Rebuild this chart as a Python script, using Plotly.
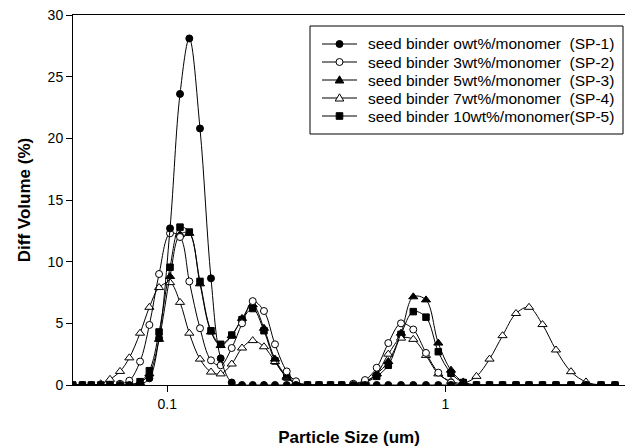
import plotly.graph_objects as go

# Particle size channels (um) shared by all samples
size_um = [0.0457, 0.0495, 0.0533, 0.0576, 0.0622, 0.0676, 0.0730, 0.0798, 0.0862, 0.0934,
           0.1023, 0.1111, 0.1200, 0.1311, 0.1436, 0.1556, 0.1705, 0.1857, 0.2029, 0.2227,
           0.2440, 0.2689, 0.2904, 0.3194, 0.3513, 0.3865, 0.4240, 0.4668, 0.5143, 0.5665,
           0.6237, 0.6929, 0.7671, 0.8522, 0.9437, 1.0483, 1.1607, 1.2945, 1.4421, 1.6067,
           1.7961, 2.0001, 2.2369, 2.5013, 2.8325, 3.2077, 3.6325, 4.0785]

# Differential volume (%) per channel
sp1 = [0, 0, 0, 0, 0, 0, 0, 0.05, 0.54, 3.8,
       12.7, 23.6, 28.1, 20.8, 8.65, 2.16, 0.2, 0, 0, 0,
       0, 0, 0, 0, 0, 0, 0, 0, 0, 0,
       0, 0, 0, 0, 0, 0, 0, 0, 0, 0,
       0, 0, 0, 0, 0, 0, 0, 0]
sp2 = [0, 0, 0, 0, 0, 0.1, 0.35, 1.9, 4.87, 9.0,
       12.3, 12.0, 8.4, 4.6, 2.0, 1.6, 3.0, 5.0, 6.8, 6.0,
       3.3, 1.1, 0.3, 0, 0, 0, 0, 0.1, 0.4, 1.4,
       3.4, 5.0, 4.5, 2.6, 1.0, 0.2, 0, 0, 0, 0,
       0, 0, 0, 0, 0, 0, 0, 0]
sp3 = [0, 0, 0, 0, 0, 0, 0, 0.2, 0.9, 3.7,
       8.8, 12.2, 12.3, 8.2, 4.3, 3.2, 4.0, 5.4, 6.5, 4.6,
       2.1, 0.7, 0.1, 0, 0, 0, 0, 0, 0.2, 0.9,
       1.9, 4.2, 7.15, 6.9, 3.4, 1.2, 0.25, 0, 0, 0,
       0, 0, 0, 0, 0, 0, 0, 0]
sp4 = [0, 0, 0, 0.1, 0.46, 1.1, 2.2, 4.2, 6.3, 7.9,
       8.3, 6.7, 4.2, 2.1, 1.05, 0.9, 1.7, 3.0, 3.6, 3.1,
       1.9, 0.6, 0.2, 0, 0, 0, 0, 0.05, 0.3, 0.9,
       2.5, 3.8, 3.7, 2.4, 0.9, 0.3, 0.15, 0.7, 2.1, 4.0,
       5.8, 6.3, 4.9, 2.84, 1.08, 0.25, 0, 0]
sp5 = [0, 0, 0, 0, 0, 0, 0.05, 0.27, 1.16, 4.3,
       9.55, 12.8, 12.4, 8.4, 4.4, 3.3, 4.05, 5.3, 6.2, 4.4,
       1.95, 0.65, 0.1, 0, 0, 0, 0, 0, 0.2, 0.7,
       1.6, 4.1, 5.95, 5.5, 2.7, 0.95, 0.2, 0, 0, 0,
       0, 0, 0, 0, 0, 0, 0, 0]

labels = [
    "seed binder owt%/monomer \u00a0(SP-1)",
    "seed binder 3wt%/monomer \u00a0(SP-2)",
    "seed binder 5wt%/monomer \u00a0(SP-3)",
    "seed binder 7wt%/monomer \u00a0(SP-4)",
    "seed binder 10wt%/monomer(SP-5)",
]
series = [sp1, sp2, sp3, sp4, sp5]
# (symbol, fill) per sample
styles = [("circle", "black"), ("circle", "white"), ("triangle-up", "black"),
          ("triangle-up", "white"), ("square", "black")]
marker_size = {"circle": 7, "triangle-up": 8, "square": 6.5}

FONT = "Arial, Liberation Sans, sans-serif"
W, H = 629, 448
ML, MR, MT, MB = 73, 4, 15, 63
PW, PH = W - ML - MR, H - MT - MB


def px(x):
    """pixel column -> paper x"""
    return (x - ML) / PW


def py(y):
    """pixel row -> paper y"""
    return (H - MB - y) / PH


fig = go.Figure()
# add in reverse so SP-1 is drawn on top
for name, vals, (sym, fill) in reversed(list(zip(labels, series, styles))):
    fig.add_trace(go.Scatter(
        x=size_um, y=vals, name=name, mode="lines+markers", showlegend=False,
        line=dict(color="black", width=1, shape="spline", smoothing=1.0),
        marker=dict(symbol=sym, size=marker_size[sym], color=fill,
                    line=dict(color="black", width=1)),
    ))

# boxed key in the upper right
shapes = [dict(type="rect", xref="paper", yref="paper",
               x0=px(310), x1=px(623), y0=py(26), y1=py(134),
               line=dict(color="black", width=1), fillcolor="white", layer="above")]
annotations = []
row_top, row_step = 44, 18
for i, (name, (sym, fill)) in enumerate(zip(labels, styles)):
    yc = py(row_top + i * row_step)
    xc = px(339.5)
    shapes.append(dict(type="line", xref="paper", yref="paper",
                       x0=px(322), x1=px(357), y0=yc, y1=yc,
                       line=dict(color="black", width=1), layer="above"))
    glyph = dict(xref="paper", yref="paper", xsizemode="pixel", ysizemode="pixel",
                 xanchor=xc, yanchor=yc, fillcolor=fill,
                 line=dict(color="black", width=1), layer="above")
    if sym == "circle":
        glyph.update(type="circle", x0=-3.5, x1=3.5, y0=-3.5, y1=3.5)
    elif sym == "square":
        glyph.update(type="rect", x0=-3.3, x1=3.3, y0=-3.3, y1=3.3)
    else:
        glyph.update(type="path", path="M-4.3,-3 L4.3,-3 L0,4.2 Z")
    shapes.append(glyph)
    annotations.append(dict(xref="paper", yref="paper", x=px(366), y=yc,
                            xanchor="left", yanchor="middle", showarrow=False,
                            text=name, font=dict(family=FONT, size=15.5, color="black")))

fig.update_layout(
    width=W, height=H,
    margin=dict(l=ML, r=MR, t=MT, b=MB, autoexpand=False),
    paper_bgcolor="white", plot_bgcolor="white",
    font=dict(family=FONT, size=14, color="black"),
    showlegend=False,
    shapes=shapes, annotations=annotations,
    xaxis=dict(
        type="log", range=[-1.3392, 0.6464],
        tickvals=[0.1, 1], ticktext=["0.1", "1"],
        ticks="outside", ticklen=6, tickwidth=1, tickcolor="black",
        showline=True, linecolor="black", linewidth=1, mirror=True,
        showgrid=False, zeroline=False,
        title=dict(text="<b>Particle Size (um)</b>", font=dict(size=17), standoff=20),
    ),
    yaxis=dict(
        range=[0, 30], dtick=5,
        ticks="outside", ticklen=6, tickwidth=1, tickcolor="black",
        showline=True, linecolor="black", linewidth=1,
        showgrid=False, zeroline=False,
        title=dict(text="<b>Diff Volume (%)</b>", font=dict(size=17), standoff=12),
    ),
)

fig.write_html("out.html")
